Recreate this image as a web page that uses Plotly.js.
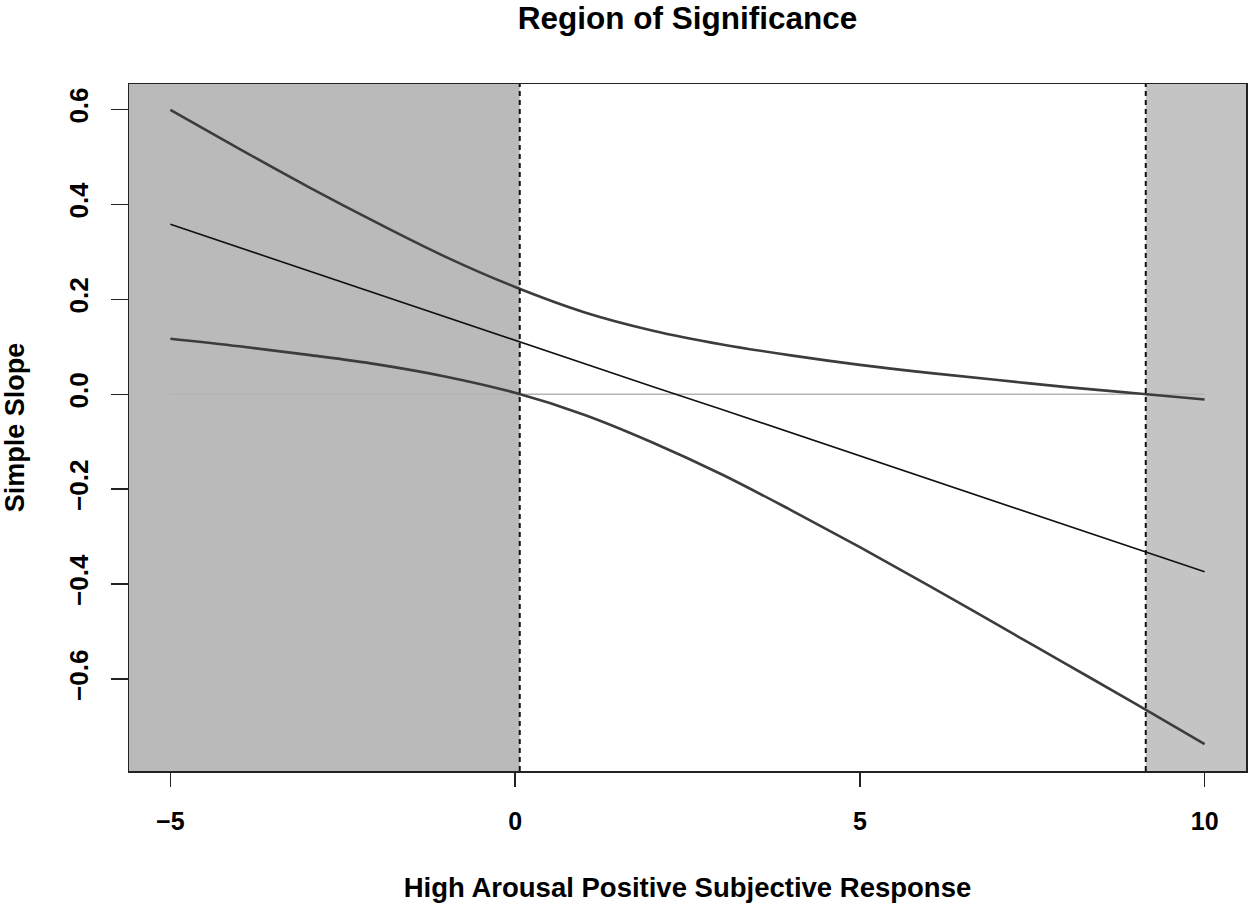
<!DOCTYPE html>
<html>
<head>
<meta charset="utf-8">
<script src="https://cdn.plot.ly/plotly-3.0.1.min.js"></script>
<style>html,body{margin:0;padding:0;background:#fff;}#chart{width:1248px;height:905px;}</style>
</head>
<body>
<div id="chart"></div>
<script>
// Moderator values (x) and read-off simple slopes
const moderator = [-5, -4, -3, -2, -1, 0, 1, 2, 3, 4, 5, 6, 7, 8, 9, 10];
const simpleSlope = [0.358, 0.309, 0.260, 0.212, 0.163, 0.114, 0.065, 0.016, -0.032, -0.081, -0.130, -0.179, -0.228, -0.277, -0.325, -0.374];
const upperCI = [0.599, 0.517, 0.437, 0.361, 0.289, 0.226, 0.173, 0.134, 0.105, 0.082, 0.062, 0.045, 0.030, 0.015, 0.002, -0.011];
const lowerCI = [0.117, 0.101, 0.083, 0.063, 0.037, 0.003, -0.043, -0.102, -0.169, -0.244, -0.322, -0.403, -0.486, -0.569, -0.652, -0.737];
const zeroRef = [0, 0];
const zeroRefX = [-5, 10];
// Johnson-Neyman boundaries
const jnBounds = [0.067, 9.146];
const xRange = [-5.6, 10.6];
const yRange = [-0.7936, 0.6536];
const xTickVals = [-5, 0, 5, 10];
const xTickText = ['\u22125', '0', '5', '10'];
const yTickVals = [-0.6, -0.4, -0.2, 0.0, 0.2, 0.4, 0.6];
const yTickText = ['\u22120.6', '\u22120.4', '\u22120.2', '0.0', '0.2', '0.4', '0.6'];

const FONT = 'Liberation Sans, Arial, Helvetica, sans-serif';

const traces = [
  {x: zeroRefX, y: zeroRef, mode: 'lines', line: {color: '#b4b4b4', width: 1.5}, hoverinfo: 'skip'},
  {x: moderator, y: upperCI, mode: 'lines', line: {color: '#3c3c3c', width: 2.6, shape: 'spline'}},
  {x: moderator, y: lowerCI, mode: 'lines', line: {color: '#3c3c3c', width: 2.6, shape: 'spline'}},
  {x: moderator, y: simpleSlope, mode: 'lines', line: {color: '#111111', width: 1.6}}
];

const shapes = [
  {type: 'rect', xref: 'x', yref: 'paper', x0: xRange[0], x1: jnBounds[0], y0: 0, y1: 1, fillcolor: '#bababa', line: {width: 0}, layer: 'below'},
  {type: 'rect', xref: 'x', yref: 'paper', x0: jnBounds[1], x1: xRange[1], y0: 0, y1: 1, fillcolor: '#c4c4c4', line: {width: 0}, layer: 'below'},
  {type: 'line', xref: 'x', yref: 'paper', x0: jnBounds[0], x1: jnBounds[0], y0: 0, y1: 1, line: {color: '#111', width: 2, dash: '5px,4px'}},
  {type: 'line', xref: 'x', yref: 'paper', x0: jnBounds[1], x1: jnBounds[1], y0: 0, y1: 1, line: {color: '#111', width: 2, dash: '5px,4px'}}
];

const layout = {
  width: 1248, height: 905,
  margin: {l: 129, r: 2, t: 84, b: 134},
  paper_bgcolor: '#ffffff', plot_bgcolor: '#ffffff',
  showlegend: false,
  font: {family: FONT, color: '#000'},
  title: {text: 'Region of Significance', font: {family: FONT, size: 31.5, weight: 'bold', color: '#000'}, xref: 'paper', x: 0.5, xanchor: 'center', y: 0.98, yanchor: 'middle', yref: 'container'},
  xaxis: {
    range: xRange, showgrid: false, zeroline: false,
    showline: true, mirror: true, linecolor: '#222', linewidth: 1.5,
    ticks: 'outside', ticklen: 14, tickwidth: 1.5, tickcolor: '#222',
    tickvals: xTickVals, ticktext: xTickText,
    tickfont: {family: FONT, size: 25, weight: 'bold', color: '#000'},
    ticklabelstandoff: 13,
    title: {text: 'High Arousal Positive Subjective Response', font: {family: FONT, size: 27.5, weight: 'bold', color: '#000'}, standoff: 44}
  },
  yaxis: {
    range: yRange, showgrid: false, zeroline: false,
    showline: true, mirror: true, linecolor: '#222', linewidth: 1.5,
    ticks: 'outside', ticklen: 17, tickwidth: 1.5, tickcolor: '#222',
    tickvals: yTickVals, ticktext: yTickText, tickangle: -90,
    tickfont: {family: FONT, size: 26, weight: 'bold', color: '#000'},
    ticklabelstandoff: 12,
    title: {text: 'Simple Slope', font: {family: FONT, size: 27, weight: 'bold', color: '#000'}, standoff: 32}
  },
  shapes: shapes
};

Plotly.newPlot('chart', traces, layout, {displayModeBar: false, staticPlot: true});
</script>
</body>
</html>
